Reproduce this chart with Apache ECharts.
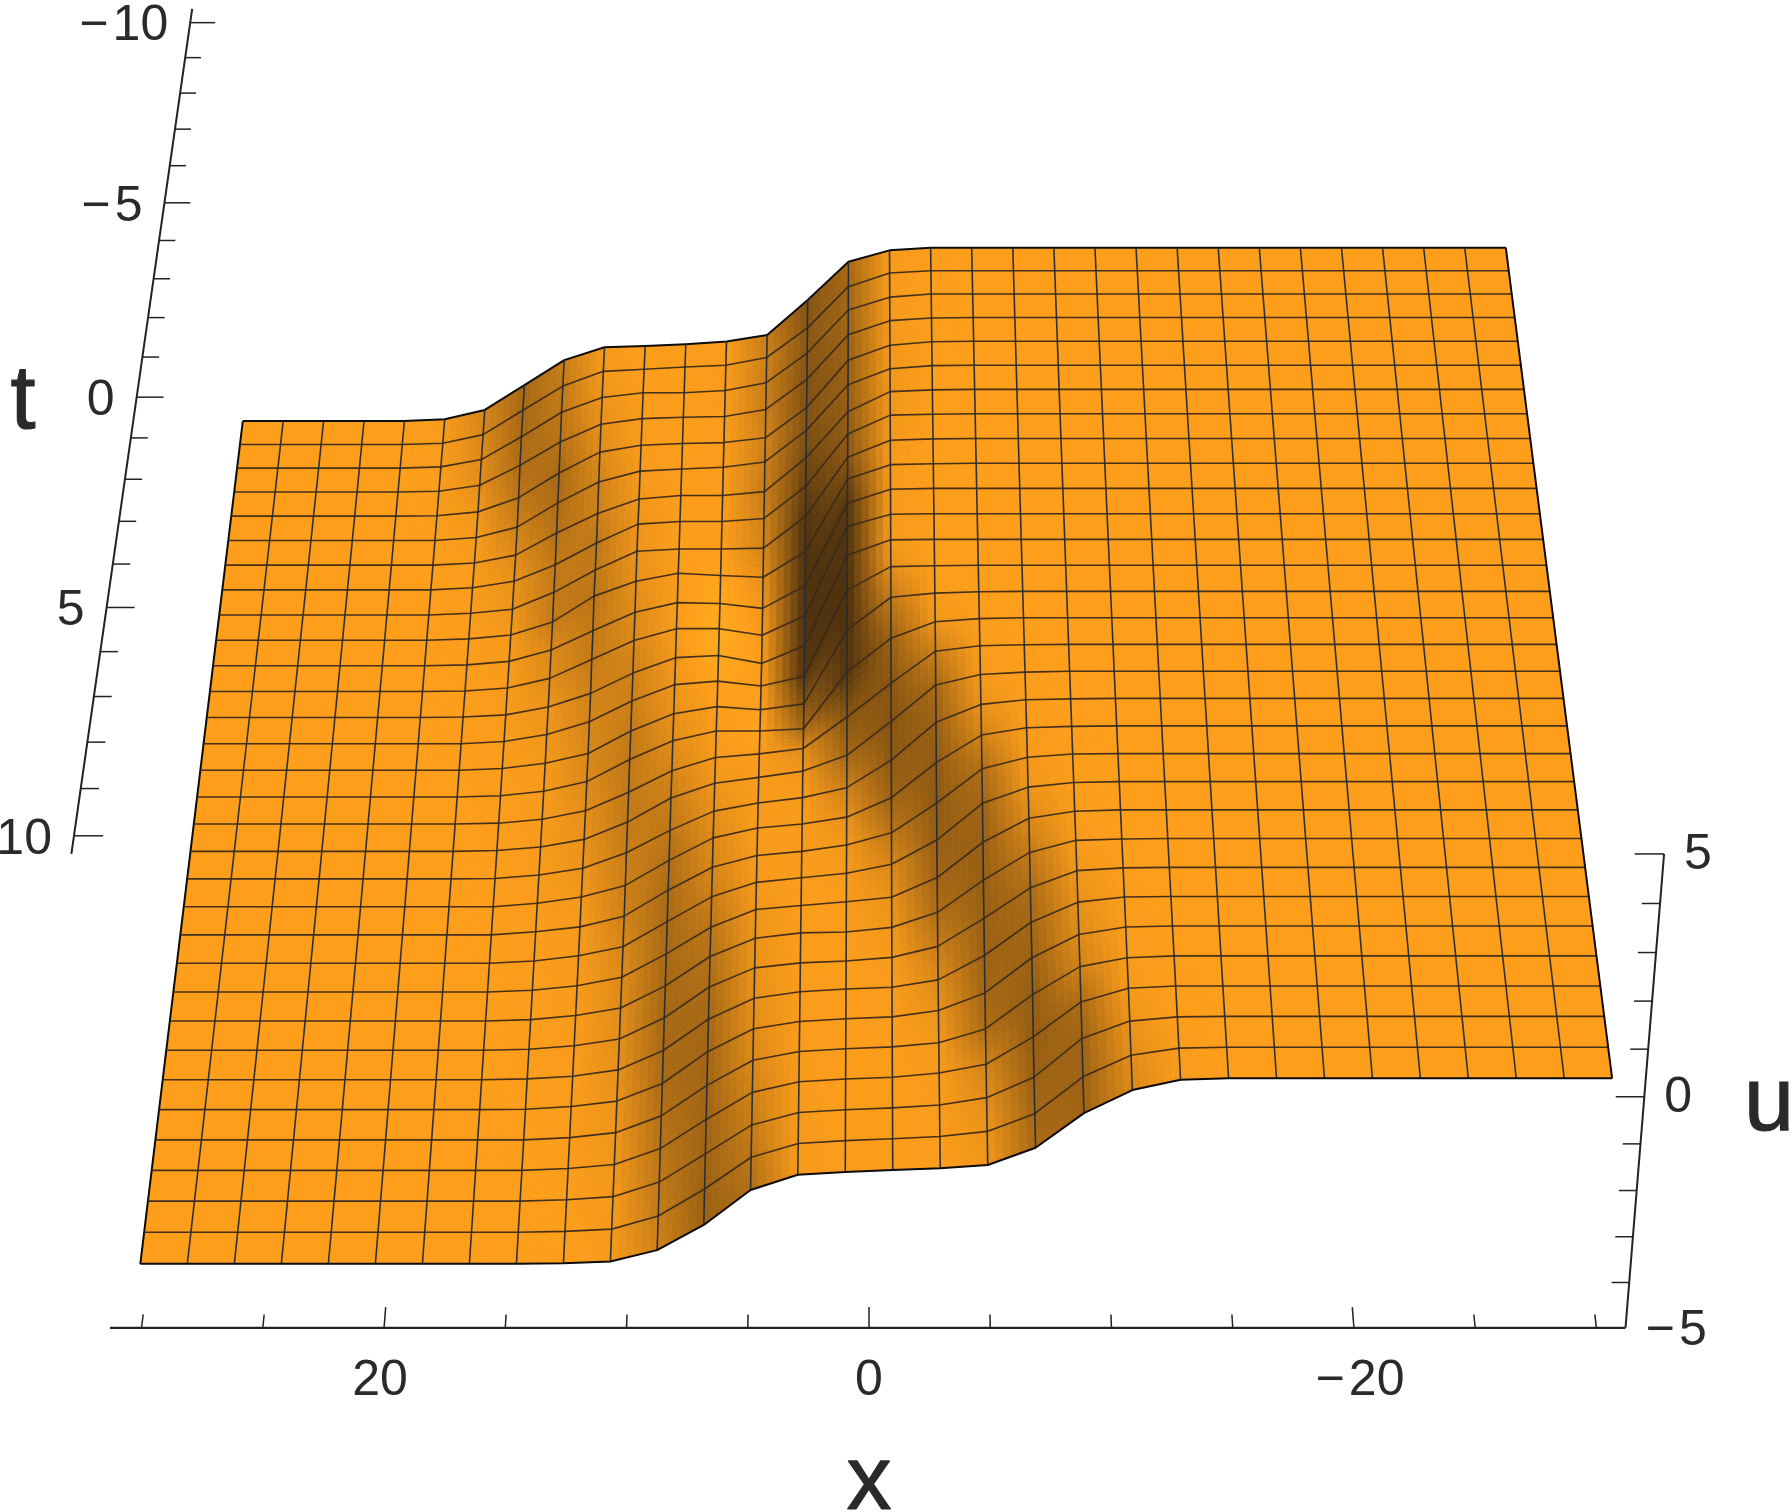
<!DOCTYPE html>
<html>
<head>
<meta charset="utf-8">
<style>
html, body { margin: 0; background: #fff; }
#chart { width: 1792px; height: 1512px; }
</style>
<script src="https://cdn.jsdelivr.net/npm/echarts@6/dist/echarts.min.js"></script>
</head>
<body>
<div id="chart"></div>
<script>
// surface heights, one row per t mesh line (back to front)
// each row starts at mesh column 5; columns before it sit on uLow, columns after it on uHigh
const uLow = -4
const uHigh = 0
const uRows = [
  [-3.96,-3.74,-3.16,-2.58,-2.28,-2.25,-2.21,-2.15,-2,-1.19,-.32,-.06],
  [-3.97,-3.77,-3.2,-2.64,-2.3,-2.25,-2.2,-2.16,-1.98,-1.3,-.36,-.05],
  [-3.97,-3.8,-3.27,-2.7,-2.36,-2.25,-2.25,-2.2,-2.02,-1.34,-.36,-.07],
  [-3.98,-3.84,-3.38,-2.84,-2.43,-2.3,-2.27,-2.25,-2.09,-1.4,-.39,-.07,-.01],
  [-3.99,-3.9,-3.57,-3,-2.52,-2.36,-2.32,-2.3,-2.19,-1.5,-.43,-.09,-.01],
  [-4,-3.93,-3.69,-3.13,-2.65,-2.4,-2.35,-2.31,-2.19,-1.47,-.44,-.08,-.01],
  [-4,-3.95,-3.77,-3.26,-2.81,-2.48,-2.4,-2.4,-2.31,-1.54,-.5,-.05,-.01],
  [-4,-3.95,-3.8,-3.42,-2.92,-2.49,-2.43,-2.43,-2.36,-1.63,-.45,-.03,-.01],
  [-4,-3.96,-3.87,-3.48,-2.97,-2.54,-2.49,-2.49,-2.47,-1.75,-.42,-.04,-.01],
  [-4,-3.97,-3.88,-3.58,-2.99,-2.65,-2.47,-2.52,-2.56,-1.98,-.35,-.03,-.01],
  [-4,-3.98,-3.9,-3.64,-3.2,-2.78,-2.56,-2.58,-2.69,-2.18,-.33,-.02],
  [-4,-3.99,-3.92,-3.7,-3.27,-2.84,-2.57,-2.57,-2.72,-2.28,-.28,-.01],
  [-4,-3.99,-3.94,-3.76,-3.45,-2.99,-2.64,-2.59,-2.77,-2.37,-.35,-.01],
  [-4,-4,-3.95,-3.79,-3.5,-3.03,-2.66,-2.58,-2.69,-2.47,-.55,-.03,-.01],
  [-4,-4,-3.96,-3.84,-3.62,-3.11,-2.72,-2.56,-2.63,-2.5,-.85,-.13,-.04,-.01],
  [-4,-4,-3.97,-3.87,-3.65,-3.15,-2.73,-2.51,-2.51,-2.46,-1.2,-.45,-.09,-.02],
  [-4,-4,-3.98,-3.89,-3.7,-3.28,-2.8,-2.5,-2.42,-2.3,-1.6,-.85,-.15,-.03,-.01],
  [-4,-4,-3.98,-3.9,-3.73,-3.34,-2.8,-2.47,-2.34,-2.2,-1.85,-1.1,-.3,-.07,-.02],
  [-4,-4,-3.99,-3.91,-3.76,-3.41,-2.91,-2.48,-2.3,-2.18,-1.96,-1.35,-.52,-.13,-.03,-.01],
  [-4,-4,-4,-3.92,-3.78,-3.52,-2.96,-2.46,-2.24,-2.15,-2,-1.57,-.8,-.2,-.04,-.01],
  [-4,-4,-4,-3.93,-3.82,-3.58,-3,-2.49,-2.23,-2.14,-2,-1.73,-1.08,-.33,-.08,-.01],
  [-4,-4,-4,-3.95,-3.83,-3.63,-3.07,-2.52,-2.2,-2.1,-2,-1.8,-1.27,-.47,-.12,-.02],
  [-4,-4,-4,-3.96,-3.86,-3.67,-3.15,-2.56,-2.17,-2.08,-2,-1.9,-1.47,-.7,-.18,-.03],
  [-4,-4,-4,-3.97,-3.88,-3.71,-3.22,-2.57,-2.17,-2.05,-2.03,-1.93,-1.6,-.9,-.3,-.04,-.01],
  [-4,-4,-4,-3.98,-3.9,-3.75,-3.28,-2.6,-2.18,-2.07,-2.03,-1.95,-1.71,-1.1,-.44,-.07,-.01],
  [-4,-4,-4,-3.98,-3.92,-3.78,-3.35,-2.66,-2.2,-2.06,-2,-1.96,-1.8,-1.27,-.55,-.12,-.01],
  [-4,-4,-4,-3.99,-3.93,-3.81,-3.42,-2.72,-2.22,-2.06,-2,-1.96,-1.82,-1.44,-.68,-.18,-.02],
  [-4,-4,-4,-4,-3.95,-3.84,-3.47,-2.8,-2.25,-2.06,-2,-1.96,-1.87,-1.57,-.83,-.23,-.04],
  [-4,-4,-4,-4,-3.96,-3.87,-3.52,-2.88,-2.29,-2.06,-2,-1.96,-1.87,-1.68,-1.09,-.34,-.05],
  [-4,-4,-4,-4,-3.97,-3.9,-3.58,-2.96,-2.33,-2.06,-2,-1.96,-1.9,-1.74,-1.3,-.47,-.1,-.01],
  [-4,-4,-4,-4,-3.98,-3.93,-3.64,-3.05,-2.36,-2.06,-2,-1.96,-1.91,-1.8,-1.42,-.63,-.17,-.02],
  [-4,-4,-4,-4,-3.99,-3.95,-3.7,-3.15,-2.39,-2.06,-2,-1.96,-1.92,-1.85,-1.48,-.74,-.25,-.03]
]
const xMin = -30
const xMax = 30
const tMin = -10
const tMax = 10
const cellCount = 31

const xTickValues = [30, 25, 20, 15, 10, 5, 0, -5, -10, -15, -20, -25, -30]
const xTickLabels = { 20: '20', 0: '0', '-20': '\u2212\u200a20' }
const tTickValues = [-10, -9, -8, -7, -6, -5, -4, -3, -2, -1, 0, 1, 2, 3, 4, 5, 6, 7, 8, 9, 10]
const tTickLabels = { '-10': '\u2212\u200a10', '-5': '\u2212\u200a5', 0: '0', 5: '5', 10: '10' }
const uTickValues = [-5, -4, -3, -2, -1, 0, 1, 2, 3, 4, 5]
const uTickLabels = { '-5': '\u2212\u200a5', 0: '0', 5: '5' }

const fontName = '"Liberation Sans", Arial, sans-serif'
const textColor = '#2a2a2a'
const boxXLeft = 31.3
const boxXRight = -31.2
const boxTBack = -10.4
const boxTFront = 10.38

// slope -> brightness of the orange, by eye from the picture
const slopeStops = [0, 0.1, 0.2, 0.3, 0.4, 0.45, 0.55, 0.65]
const lightStops = [1, 0.97, 0.86, 0.66, 0.57, 0.52, 0.33, 0.3]

const grid = uRows.map(r => {
  const row = [uLow, uLow, uLow, uLow, uLow].concat(r)
  while (row.length < cellCount + 1) row.push(uHigh)
  return row
})
const xAt = j => xMax - j * (xMax - xMin) / cellCount
const tAt = i => tMin + i * (tMax - tMin) / cellCount

// camera of the original 3D view, x runs right to left and t runs back to front
function project(x, t, u) {
  const w = 0.04374 - 0.000337 * t - 0.0002 * u
  return [869 - x / w, (27.6 + 1.593 * t - 2.125 * u) / w]
}

// brightness per mesh node from the local slope
function shadeAt(i, j) {
  const jl = Math.max(j - 1, 0)
  const jr = Math.min(j + 1, cellCount)
  const ib = Math.max(i - 1, 0)
  const ifr = Math.min(i + 1, cellCount)
  const sx = (grid[i][jr] - grid[i][jl]) / ((jr - jl) * 60 / 31)
  const st = (grid[ifr][j] - grid[ib][j]) / ((ifr - ib) * 20 / 31)
  const s = sx - 0.12 * st
  if (s < 0) return Math.min(1.12, 1 - s * 2)
  for (let k = 1; k < slopeStops.length; k++) {
    if (s < slopeStops[k]) {
      const r = (s - slopeStops[k - 1]) / (slopeStops[k] - slopeStops[k - 1])
      return lightStops[k - 1] + r * (lightStops[k] - lightStops[k - 1])
    }
  }
  return lightStops[lightStops.length - 1]
}
const shade = grid.map((r, i) => r.map((v, j) => shadeAt(i, j)))

function colorOf(f) {
  const r = Math.min(255, 254 * f)
  const g = Math.min(178, 158 * f)
  const b = Math.min(30, 20 * f + 6)
  return 'rgb(' + Math.round(r) + ',' + Math.round(g) + ',' + Math.round(b) + ')'
}

const cells = []
for (let i = 0; i < cellCount; i++) {
  for (let j = 0; j < cellCount; j++) cells.push([i, j])
}

function renderCell(params, api) {
  const i = api.value(0)
  const j = api.value(1)
  const pts = [[i, j], [i, j + 1], [i + 1, j + 1], [i + 1, j]].map(n =>
    api.coord(project(xAt(n[1]), tAt(n[0]), grid[n[0]][n[1]])))
  const fs = [shade[i][j], shade[i][j + 1], shade[i + 1][j + 1], shade[i + 1][j]]
  const flat = Math.max.apply(null, fs) - Math.min.apply(null, fs) < 0.004
  const n = flat ? 1 : 6
  const children = []
  const mix = (a, b, c, d, p, q) => a * (1 - p) * (1 - q) + b * p * (1 - q) + c * p * q + d * (1 - p) * q
  const at = (p, q) => [
    mix(pts[0][0], pts[1][0], pts[2][0], pts[3][0], p, q),
    mix(pts[0][1], pts[1][1], pts[2][1], pts[3][1], p, q)
  ]
  for (let a = 0; a < n; a++) {
    for (let b = 0; b < n; b++) {
      const p = (b + 0.5) / n
      const q = (a + 0.5) / n
      const c = colorOf(mix(fs[0], fs[1], fs[2], fs[3], p, q))
      children.push({
        type: 'polygon',
        shape: { points: [at(b / n, a / n), at((b + 1) / n, a / n), at((b + 1) / n, (a + 1) / n), at(b / n, (a + 1) / n)] },
        style: { fill: c, stroke: c, lineWidth: 0.7 }
      })
    }
  }
  return { type: 'group', children: children }
}

function polyline(points, color, width) {
  return {
    type: 'polyline',
    shape: { points: points },
    style: { fill: 'none', stroke: color, lineWidth: width, lineJoin: 'round' }
  }
}

const meshLines = []
for (let k = 0; k <= cellCount; k++) {
  meshLines.push([0, k])
  meshLines.push([1, k])
}

function renderMesh(params, api) {
  const kind = api.value(0)
  const k = api.value(1)
  const pts = []
  for (let m = 0; m <= cellCount; m++) {
    const i = kind === 0 ? k : m
    const j = kind === 0 ? m : k
    pts.push(api.coord(project(xAt(j), tAt(i), grid[i][j])))
  }
  if (k === 0 || k === cellCount) return polyline(pts, '#0c0c0c', 2)
  return polyline(pts, kind === 0 ? 'rgba(58,42,28,0.95)' : 'rgba(34,44,58,0.95)', 1.6)
}

function label(text, x, y, size, align) {
  return {
    type: 'text',
    style: { text: text, x: x, y: y, font: size + 'px ' + fontName, fill: textColor, align: align, verticalAlign: 'middle' }
  }
}

function axisTitle(text, x, y) {
  const el = label(text, x, y, 90, 'center')
  el.style.stroke = textColor
  el.style.lineWidth = 1.2
  return el
}

function renderXTick(params, api) {
  const x = api.value(0)
  const major = x % 20 === 0
  const a = api.coord(project(x, boxTFront, -5))
  const b = api.coord(project(x, boxTFront - (major ? 0.42 : 0.27), -5))
  const kids = [polyline([a, b], '#222', 1.5)]
  if (xTickLabels[x]) kids.push(label(xTickLabels[x], a[0] + (x === 20 ? -4 : x === 0 ? 0 : 6), a[1] + 53, 50, 'center'))
  return { type: 'group', children: kids }
}

function renderTTick(params, api) {
  const t = api.value(0)
  const major = t % 5 === 0
  const a = api.coord(project(boxXLeft, t, 5))
  const b = api.coord(project(boxXLeft - (major ? 1.15 : 0.72), t, 5))
  const kids = [polyline([a, b], '#222', 1.5)]
  if (tTickLabels[t]) kids.push(label(tTickLabels[t], a[0] - 22, a[1] + 4, 50, 'right'))
  return { type: 'group', children: kids }
}

function renderUTick(params, api) {
  const u = api.value(0)
  const major = u % 5 === 0
  const a = api.coord(project(boxXRight, boxTFront, u))
  const b = api.coord(project(boxXRight + (major ? 1.15 : 0.72), boxTFront, u))
  const kids = u === -5 ? [] : [polyline([a, b], '#222', 1.5)]
  if (uTickLabels[u]) kids.push(label(uTickLabels[u], a[0] + 20, a[1] + (u === -5 ? 3 : 1), 50, 'left'))
  return { type: 'group', children: kids }
}

function renderFrame(params, api) {
  const c = p => api.coord(project(p[0], p[1], p[2]))
  return {
    type: 'group',
    children: [
      polyline([c([boxXLeft, boxTFront, -5]), c([boxXRight, boxTFront, -5])], '#222', 2.2),
      polyline([c([boxXLeft, boxTFront, 5]), c([boxXLeft, boxTBack, 5])], '#222', 2),
      polyline([c([boxXRight, boxTFront, -5]), c([boxXRight, boxTFront, 5])], '#222', 2),
      axisTitle('x', 869, 1484),
      axisTitle('t', 23, 403),
      axisTitle('u', 1769, 1105)
    ]
  }
}

function customSeries(data, renderItem) {
  return {
    type: 'custom',
    coordinateSystem: 'cartesian2d',
    data: data,
    renderItem: renderItem,
    clip: false,
    silent: true,
    animation: false,
    progressive: 0
  }
}

const chart = echarts.init(document.getElementById('chart'), null, { renderer: 'canvas' })
chart.setOption({
  backgroundColor: '#fff',
  animation: false,
  grid: { left: 0, right: 0, top: 0, bottom: 0 },
  xAxis: { type: 'value', min: 0, max: 1792, show: false },
  yAxis: { type: 'value', min: 0, max: 1512, inverse: true, show: false },
  series: [
    customSeries(cells, renderCell),
    customSeries(meshLines, renderMesh),
    customSeries([[0, 0]], renderFrame),
    customSeries(xTickValues.map(v => [v, 0]), renderXTick),
    customSeries(tTickValues.map(v => [v, 0]), renderTTick),
    customSeries(uTickValues.map(v => [v, 0]), renderUTick)
  ]
})
</script>
</body>
</html>
